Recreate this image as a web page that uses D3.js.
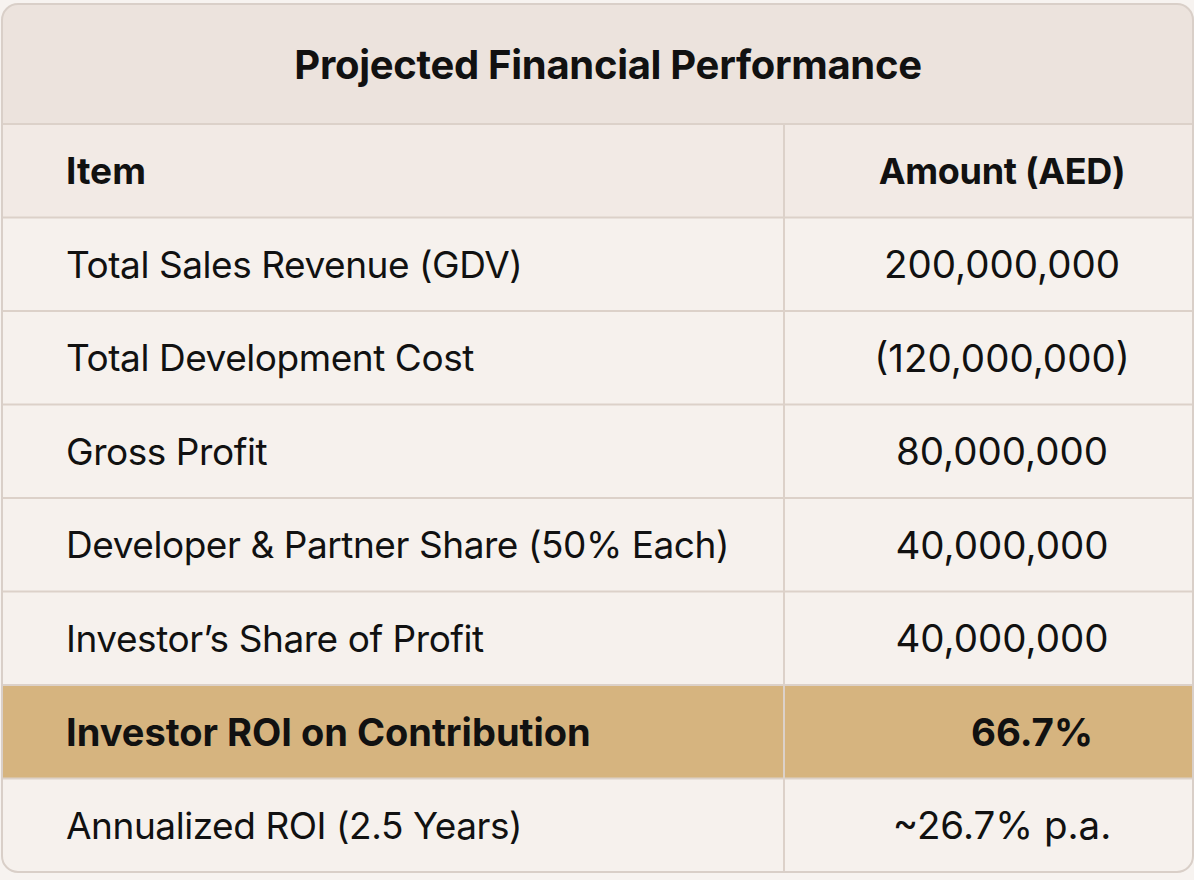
<!DOCTYPE html>
<html><head><meta charset="utf-8">
<script src="https://cdn.jsdelivr.net/npm/d3@7"></script>
<style>
html,body{margin:0;padding:0;background:#f7f3f0;}
svg{display:block;font-family:Inter,"Open Sans",sans-serif;}
</style></head>
<body><svg id="c" width="1194" height="880"></svg>
<script>
const title = "Projected Financial Performance";
const headers = ["Item", "Amount (AED)"];
const items = [
  "Total Sales Revenue (GDV)",
  "Total Development Cost",
  "Gross Profit",
  "Developer & Partner Share (50% Each)",
  "Investor’s Share of Profit",
  "Investor ROI on Contribution",
  "Annualized ROI (2.5 Years)"
];
const amounts = [
  "200,000,000",
  "(120,000,000)",
  "80,000,000",
  "40,000,000",
  "40,000,000",
  "66.7%",
  "~26.7% p.a."
];
const highlighted = ["Investor ROI on Contribution"];

const svg = d3.select("#c");
const card = {x0: 2, x1: 1193, y0: 4, y1: 872, r: 16};
const titleH = 120;
const colSplit = 784;

const rowKeys = ["__header", ...items];
const y = d3.scaleBand().domain(rowKeys).range([card.y0 + titleH, card.y1]);

const defs = svg.append("defs");
defs.append("clipPath").attr("id", "cardclip")
  .append("rect").attr("x", card.x0).attr("y", card.y0)
  .attr("width", card.x1 - card.x0).attr("height", card.y1 - card.y0).attr("rx", card.r);

const g = svg.append("g").attr("clip-path", "url(#cardclip)");

g.append("rect").attr("x", card.x0).attr("y", card.y0).attr("width", card.x1 - card.x0)
  .attr("height", titleH).attr("fill", "#ece3dd");
g.append("rect").attr("x", card.x0).attr("y", y("__header")).attr("width", card.x1 - card.x0)
  .attr("height", y.bandwidth()).attr("fill", "#f2eae5");
g.selectAll("rect.row").data(items).join("rect").attr("class", "row")
  .attr("x", card.x0).attr("y", d => y(d)).attr("width", card.x1 - card.x0)
  .attr("height", y.bandwidth())
  .attr("fill", d => highlighted.includes(d) ? "#d6b47f" : "#f6f1ed");

const lineYs = [card.y0 + titleH, ...items.map(d => y(d))];
g.selectAll("line.h").data(lineYs).join("line").attr("class", "h")
  .attr("x1", card.x0).attr("x2", card.x1).attr("y1", d => d).attr("y2", d => d)
  .attr("stroke", "#dcd1c9").attr("stroke-width", 2);
g.append("line").attr("x1", colSplit).attr("x2", colSplit)
  .attr("y1", card.y0 + titleH).attr("y2", card.y1)
  .attr("stroke", "#dcd1c9").attr("stroke-width", 2);

svg.append("rect").attr("x", card.x0).attr("y", card.y0)
  .attr("width", card.x1 - card.x0).attr("height", card.y1 - card.y0).attr("rx", card.r)
  .attr("fill", "none").attr("stroke", "#d9cfc8").attr("stroke-width", 2);

svg.append("text").attr("x", 608).attr("y", card.y0 + titleH / 2)
  .attr("text-anchor", "middle").attr("dominant-baseline", "central")
  .attr("font-size", 40).attr("font-weight", 700).attr("fill", "#111")
  .attr("letter-spacing", -0.3)
  .text(title);

const leftX = 66, amtX = 1002;
svg.append("text").attr("x", leftX).attr("y", y("__header") + y.bandwidth() / 2)
  .attr("dominant-baseline", "central").attr("font-size", 37).attr("font-weight", 700)
  .attr("fill", "#111").text(headers[0]);
svg.append("text").attr("x", amtX).attr("y", y("__header") + y.bandwidth() / 2)
  .attr("text-anchor", "middle").attr("dominant-baseline", "central")
  .attr("font-size", 36).attr("font-weight", 700).attr("fill", "#111")
  .attr("letter-spacing", -0.3).text(headers[1]);

svg.selectAll("text.item").data(items).join("text").attr("class", "item")
  .attr("x", leftX).attr("y", d => y(d) + y.bandwidth() / 2)
  .attr("dominant-baseline", "central")
  .attr("font-size", d => highlighted.includes(d) ? 38 : 37)
  .attr("letter-spacing", d => highlighted.includes(d) ? 0 : -0.45)
  .attr("font-weight", d => highlighted.includes(d) ? 700 : 400)
  .attr("fill", "#111").text(d => d);
svg.selectAll("text.amt").data(items).join("text").attr("class", "amt")
  .attr("x", (d, i) => highlighted.includes(d) ? amtX + 30 : amtX)
  .attr("y", d => y(d) + y.bandwidth() / 2)
  .attr("text-anchor", "middle").attr("dominant-baseline", "central")
  .attr("font-size", 38.5)
  .attr("font-weight", d => highlighted.includes(d) ? 700 : 400)
  .attr("fill", "#111").text((d, i) => amounts[i]);
</script></body></html>
